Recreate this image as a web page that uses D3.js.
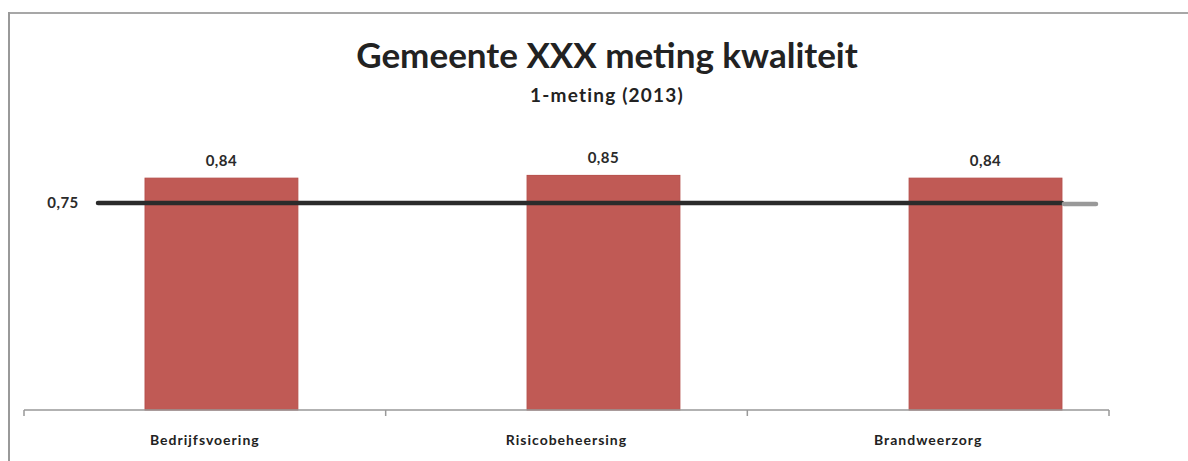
<!DOCTYPE html>
<html>
<head>
<meta charset="utf-8">
<script src="https://cdn.jsdelivr.net/npm/d3@7"></script>
<style>
  body { margin: 0; background: #fff; }
  svg { display: block; font-family: Lato, "Open Sans", sans-serif; }
</style>
</head>
<body>
<svg id="chart" width="1188" height="461"></svg>
<script>
// Data
const categories = ['Bedrijfsvoering', 'Risicobeheersing', 'Brandweerzorg'];
const scores = [0.84, 0.85, 0.84];
const scoreLabels = ['0,84', '0,85', '0,84'];
const norm = 0.75;
const normLabel = '0,75';

const svg = d3.select('#chart');

// frame of the scanned chart
svg.append('line')
  .attr('x1', 10).attr('x2', 1188).attr('y1', 13).attr('y2', 13)
  .attr('stroke', '#8a8a8a').attr('stroke-width', 1.5);
svg.append('line')
  .attr('x1', 9).attr('x2', 9).attr('y1', 12).attr('y2', 461)
  .attr('stroke', '#555').attr('stroke-width', 1.2);

// Scales
const axisX = d3.scaleBand().domain(categories).range([24, 1109]);
const x = d3.scaleBand().domain(categories).range([24, 1109])
  .paddingInner(0.6).paddingOuter(0.22).align(0.72);
const y = d3.scaleLinear().domain([0, 1]).range([410, 134]);

// Title
svg.append('text')
  .attr('x', 607).attr('y', 68)
  .attr('text-anchor', 'middle')
  .attr('font-size', 35).attr('font-weight', 'bold')
  .attr('fill', '#222')
  .text('Gemeente XXX meting kwaliteit');

svg.append('text')
  .attr('x', 607).attr('y', 102)
  .attr('text-anchor', 'middle')
  .attr('font-size', 19).attr('font-weight', 'bold')
  .attr('letter-spacing', 1.2)
  .attr('fill', '#222')
  .text('1-meting (2013)');

// Bars
svg.append('g').selectAll('rect')
  .data(categories)
  .enter().append('rect')
  .attr('x', (d) => x(d))
  .attr('y', (d, i) => y(scores[i]))
  .attr('width', x.bandwidth())
  .attr('height', (d, i) => y(0) - y(scores[i]))
  .attr('fill', '#c05a55')
  .attr('stroke', '#b54d48')
  .attr('stroke-width', 1);

// Value labels
svg.append('g').selectAll('text')
  .data(categories)
  .enter().append('text')
  .attr('x', (d) => x(d) + x.bandwidth() / 2)
  .attr('y', (d, i) => y(scores[i]) - 12)
  .attr('text-anchor', 'middle')
  .attr('font-size', 15).attr('font-weight', 'bold')
  .attr('letter-spacing', 0.5)
  .attr('fill', '#2a2a2a')
  .text((d, i) => scoreLabels[i]);

// X axis
const xAxis = svg.append('g')
  .attr('transform', `translate(0,${y(0)})`);
xAxis.append('line')
  .attr('x1', axisX.range()[0]).attr('x2', axisX.range()[1])
  .attr('stroke', '#999').attr('stroke-width', 1.5);
const bounds = categories.map((d) => axisX(d)).concat([axisX.range()[1]]);
xAxis.selectAll('.tick')
  .data(bounds)
  .enter().append('line')
  .attr('class', 'tick')
  .attr('x1', (d) => d).attr('x2', (d) => d)
  .attr('y1', 0).attr('y2', 6)
  .attr('stroke', '#999').attr('stroke-width', 1.5);
xAxis.selectAll('text')
  .data(categories)
  .enter().append('text')
  .attr('x', (d) => axisX(d) + axisX.bandwidth() / 2)
  .attr('y', 35)
  .attr('text-anchor', 'middle')
  .attr('font-size', 14).attr('font-weight', 'bold')
  .attr('letter-spacing', 1)
  .attr('fill', '#222')
  .text((d) => d);

// Norm line
const lastEnd = x(categories[2]) + x.bandwidth();
svg.append('line')
  .attr('x1', 98).attr('x2', lastEnd)
  .attr('y1', y(norm)).attr('y2', y(norm))
  .attr('stroke', '#2b2b2b').attr('stroke-width', 4.5)
  .attr('stroke-linecap', 'round');
svg.append('line')
  .attr('x1', lastEnd + 2).attr('x2', 1096)
  .attr('y1', y(norm) + 1).attr('y2', y(norm) + 1)
  .attr('stroke', '#999').attr('stroke-width', 4.5)
  .attr('stroke-linecap', 'round');
svg.append('text')
  .attr('x', 63).attr('y', y(norm) + 5)
  .attr('text-anchor', 'middle')
  .attr('font-size', 15).attr('font-weight', 'bold')
  .attr('letter-spacing', 0.5)
  .attr('fill', '#2a2a2a')
  .text(normLabel);
</script>
</body>
</html>
